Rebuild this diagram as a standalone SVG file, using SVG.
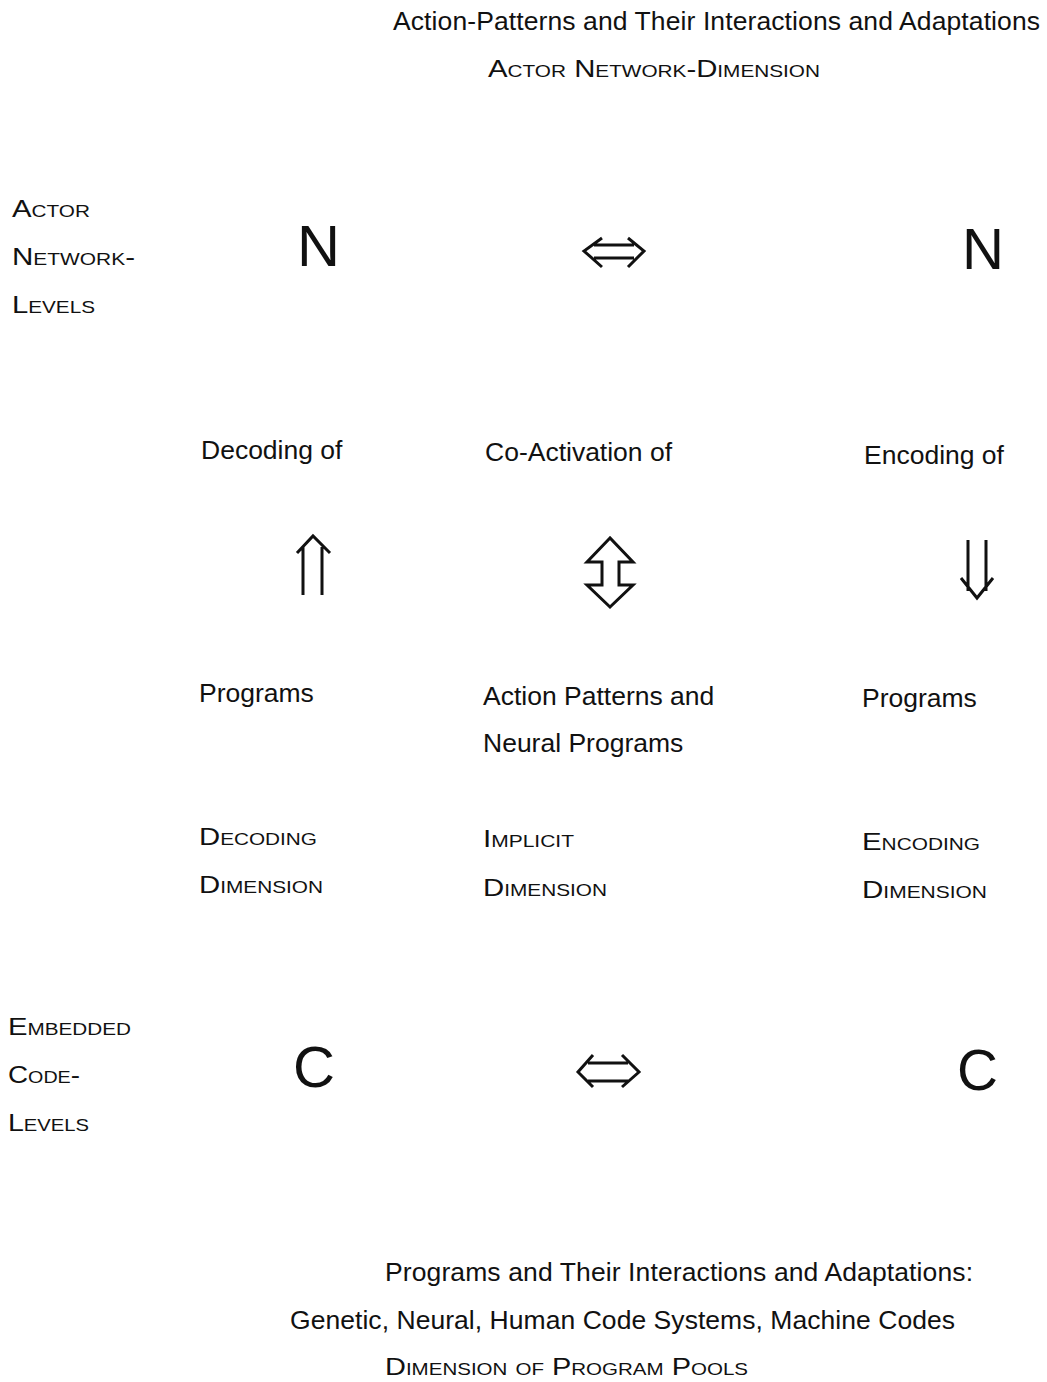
<svg xmlns="http://www.w3.org/2000/svg" width="1047" height="1382" viewBox="0 0 1047 1382">
<style>
text{font-family:"Liberation Sans",Arial,sans-serif;fill:#111;}
.t{font-size:26.5px;}
.sc{font-size:24px;font-variant:small-caps;}
.big{font-size:58px;}
.ar{fill:none;stroke:#111;stroke-width:3;stroke-linejoin:miter;stroke-linecap:butt;}
</style>
<rect width="1047" height="1382" fill="#fff"/>
<g id="title-top">
<text class="t" x="393" y="30" textLength="647">Action-Patterns and Their Interactions and Adaptations</text>
<text class="sc" x="488" y="77" textLength="332" lengthAdjust="spacingAndGlyphs">Actor Network-Dimension</text>
</g>
<g id="label-actor-levels">
<text class="sc" x="12" y="217" textLength="78" lengthAdjust="spacingAndGlyphs">Actor</text>
<text class="sc" x="12" y="265" textLength="123" lengthAdjust="spacingAndGlyphs">Network-</text>
<text class="sc" x="12" y="313" textLength="83" lengthAdjust="spacingAndGlyphs">Levels</text>
</g>
<g id="node-N-left"><text class="big" x="297" y="266" textLength="43" lengthAdjust="spacingAndGlyphs">N</text></g>
<g id="node-N-right"><text class="big" x="962" y="269" textLength="42" lengthAdjust="spacingAndGlyphs">N</text></g>
<g id="col-decoding">
<text class="t" x="201" y="459">Decoding of</text>
<text class="t" x="199" y="702">Programs</text>
<text class="sc" x="199" y="845" textLength="118" lengthAdjust="spacingAndGlyphs">Decoding</text>
<text class="sc" x="199" y="893" textLength="124" lengthAdjust="spacingAndGlyphs">Dimension</text>
</g>
<g id="col-implicit">
<text class="t" x="485" y="461">Co-Activation of</text>
<text class="t" x="483" y="705">Action Patterns and</text>
<text class="t" x="483" y="752">Neural Programs</text>
<text class="sc" x="483" y="847" textLength="91" lengthAdjust="spacingAndGlyphs">Implicit</text>
<text class="sc" x="483" y="896" textLength="124" lengthAdjust="spacingAndGlyphs">Dimension</text>
</g>
<g id="col-encoding">
<text class="t" x="864" y="464">Encoding of</text>
<text class="t" x="862" y="707">Programs</text>
<text class="sc" x="862" y="850" textLength="118" lengthAdjust="spacingAndGlyphs">Encoding</text>
<text class="sc" x="862" y="898" textLength="125" lengthAdjust="spacingAndGlyphs">Dimension</text>
</g>
<g id="label-code-levels">
<text class="sc" x="8" y="1035" textLength="123" lengthAdjust="spacingAndGlyphs">Embedded</text>
<text class="sc" x="8" y="1083" textLength="72" lengthAdjust="spacingAndGlyphs">Code-</text>
<text class="sc" x="8" y="1131" textLength="81" lengthAdjust="spacingAndGlyphs">Levels</text>
</g>
<g id="node-C-left"><text class="big" x="293" y="1087" textLength="42" lengthAdjust="spacingAndGlyphs">C</text></g>
<g id="node-C-right"><text class="big" x="957" y="1090" textLength="41" lengthAdjust="spacingAndGlyphs">C</text></g>
<g id="title-bottom">
<text class="t" x="385" y="1281" textLength="588">Programs and Their Interactions and Adaptations:</text>
<text class="t" x="290" y="1329" textLength="665">Genetic, Neural, Human Code Systems, Machine Codes</text>
<text class="sc" x="385" y="1375" textLength="363" lengthAdjust="spacingAndGlyphs">Dimension of Program Pools</text>
</g>
<g id="connectors">
<path class="ar" d="M602,238 L584,251 L602,267 M628,238 L644,251 L628,267 M594,245 H634 M594,258 H634"/>
<path class="ar" d="M297,553 L313,536 L330,553 M303,547 V595 M322,547 V595"/>
<path class="ar" d="M610,538 L587,562 H602 V585 H587 L610,607 L633,585 H619 V562 H633 Z"/>
<path class="ar" d="M968,540 V591 M986,540 V591 M961,578 L977,598 L993,578"/>
<path class="ar" d="M593,1055 L578,1072 L593,1087 M622,1055 L639,1072 L622,1087 M588,1063 H628 M588,1081 H628"/>
</g>
</svg>
